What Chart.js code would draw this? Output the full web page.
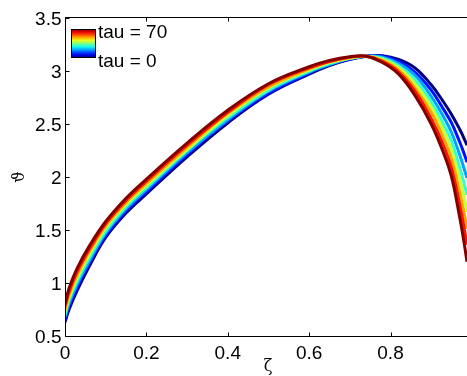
<!DOCTYPE html>
<html>
<head>
<meta charset="utf-8">
<script src="https://cdn.jsdelivr.net/npm/chart.js@4.4.0/dist/chart.umd.min.js"></script>
<style>
  html, body { margin: 0; padding: 0; background: #fff; }
  #wrap { width: 467px; height: 376px; }
</style>
</head>
<body>
<div id="wrap"><canvas id="chart" width="467" height="376"></canvas></div>
<script>
// zeta grid shared by all curves
const zeta = [0, 0.01, 0.03, 0.06, 0.1, 0.15, 0.2, 0.3, 0.4, 0.5, 0.6, 0.65, 0.7, 0.74, 0.78, 0.82, 0.86, 0.9, 0.93, 0.95, 0.97, 0.98, 0.988]

const tauValues = [0, 10, 20, 30, 40, 50, 60, 70]

// theta(zeta) for each tau
const thetaTau0  = [0.63, 0.75, 0.93, 1.16, 1.43, 1.66, 1.84, 2.19, 2.51, 2.78, 2.97, 3.05, 3.11, 3.14, 3.145, 3.11, 3.03, 2.87, 2.71, 2.59, 2.45, 2.37, 2.30]
const thetaTau10 = [0.65, 0.78, 0.96, 1.19, 1.45, 1.68, 1.86, 2.21, 2.53, 2.79, 2.98, 3.06, 3.11, 3.14, 3.14, 3.09, 2.99, 2.82, 2.64, 2.51, 2.33, 2.23, 2.14]
const thetaTau20 = [0.68, 0.81, 0.99, 1.21, 1.47, 1.70, 1.88, 2.23, 2.54, 2.81, 2.99, 3.06, 3.12, 3.14, 3.13, 3.07, 2.96, 2.76, 2.57, 2.42, 2.21, 2.09, 1.99]
const thetaTau30 = [0.70, 0.84, 1.02, 1.24, 1.49, 1.72, 1.90, 2.25, 2.56, 2.82, 3.00, 3.07, 3.12, 3.14, 3.12, 3.05, 2.92, 2.71, 2.50, 2.34, 2.09, 1.95, 1.83]
const thetaTau40 = [0.73, 0.86, 1.05, 1.27, 1.52, 1.74, 1.92, 2.26, 2.58, 2.84, 3.01, 3.08, 3.12, 3.14, 3.11, 3.03, 2.88, 2.66, 2.44, 2.25, 1.98, 1.82, 1.67]
const thetaTau50 = [0.75, 0.89, 1.08, 1.30, 1.54, 1.76, 1.94, 2.28, 2.60, 2.85, 3.02, 3.09, 3.13, 3.14, 3.10, 3.01, 2.84, 2.61, 2.37, 2.17, 1.86, 1.68, 1.51]
const thetaTau60 = [0.78, 0.92, 1.11, 1.32, 1.56, 1.78, 1.96, 2.30, 2.61, 2.87, 3.03, 3.09, 3.13, 3.14, 3.09, 2.99, 2.81, 2.55, 2.30, 2.08, 1.74, 1.54, 1.36]
const thetaTau70 = [0.80, 0.95, 1.14, 1.35, 1.58, 1.80, 1.98, 2.32, 2.63, 2.88, 3.04, 3.10, 3.135, 3.14, 3.08, 2.97, 2.77, 2.50, 2.23, 2.00, 1.62, 1.40, 1.20]

const thetaSeries = [thetaTau0, thetaTau10, thetaTau20, thetaTau30, thetaTau40, thetaTau50, thetaTau60, thetaTau70]

const xTicks = [0, 0.2, 0.4, 0.6, 0.8]
const xTickLabels = ['0', '0.2', '0.4', '0.6', '0.8']
const yTicks = [0.5, 1, 1.5, 2, 2.5, 3, 3.5]
const yTickLabels = ['0.5', '1', '1.5', '2', '2.5', '3', '3.5']

const legendTop = 'tau = 70'
const legendBottom = 'tau = 0'

const FONT = '"Liberation Sans", Arial, sans-serif'

// MATLAB-like jet colormap, t in [0, 1]
function jet(t) {
  const clamp = v => Math.max(0, Math.min(1, v))
  const r = clamp(1.5 - Math.abs(4 * t - 3))
  const g = clamp(1.5 - Math.abs(4 * t - 2))
  const b = clamp(1.5 - Math.abs(4 * t - 1))
  return `rgb(${Math.round(r * 255)}, ${Math.round(g * 255)}, ${Math.round(b * 255)})`
}

const datasets = thetaSeries.map((series, k) => ({
  label: 'tau = ' + tauValues[k],
  data: zeta.map((z, i) => ({ x: z, y: series[i] })),
  borderColor: jet(k / (thetaSeries.length - 1)),
  borderWidth: 3,
  pointRadius: 0,
  fill: false,
  tension: 0.4,
  order: thetaSeries.length - 1 - k
}))

// Axes box, inward ticks, labels and the colour legend
const axesPlugin = {
  id: 'matlabAxes',
  afterDatasetsDraw(chart) {
    const { ctx, chartArea, scales } = chart
    const left = Math.round(chartArea.left) + 0.5
    const top = Math.round(chartArea.top) - 0.5
    const bottom = Math.round(chartArea.bottom) + 0.5
    const right = chartArea.right
    const tickLen = 4

    ctx.save()
    ctx.strokeStyle = '#000'
    ctx.lineWidth = 1
    ctx.beginPath()
    ctx.moveTo(right, top); ctx.lineTo(left, top)
    ctx.lineTo(left, bottom); ctx.lineTo(right, bottom)
    xTicks.forEach(v => {
      const px = Math.round(scales.x.getPixelForValue(v)) + 0.5
      ctx.moveTo(px, bottom); ctx.lineTo(px, bottom - tickLen)
      ctx.moveTo(px, top); ctx.lineTo(px, top + tickLen)
    })
    yTicks.forEach(v => {
      const py = Math.round(scales.y.getPixelForValue(v)) + 0.5
      ctx.moveTo(left, py); ctx.lineTo(left + tickLen, py)
    })
    ctx.stroke()

    ctx.fillStyle = '#000'
    ctx.font = '19px ' + FONT
    ctx.textBaseline = 'alphabetic'
    ctx.textAlign = 'center'
    xTicks.forEach((v, i) => {
      ctx.fillText(xTickLabels[i], scales.x.getPixelForValue(v), bottom + 22)
    })
    ctx.textAlign = 'right'
    yTicks.forEach((v, i) => {
      ctx.fillText(yTickLabels[i], left - 4, scales.y.getPixelForValue(v) + 6.5)
    })

    // axis titles
    ctx.font = '16px "DejaVu Serif", serif'
    ctx.textAlign = 'center'
    ctx.fillText('\u03B6', (chartArea.left + chartArea.right) / 2 + 2, 371)
    ctx.save()
    ctx.translate(24, (chartArea.top + chartArea.bottom) / 2)
    ctx.rotate(-Math.PI / 2)
    ctx.fillText('\u03D1', 0, 0)
    ctx.restore()

    // legend: jet gradient swatch with end labels
    const sx = chartArea.left + 6, sy = chartArea.top + 11, sw = 25, sh = 29
    const grad = ctx.createLinearGradient(0, sy, 0, sy + sh)
    for (let i = 0; i <= 10; i++) {
      grad.addColorStop(i / 10, jet(1 - i / 10))
    }
    ctx.fillStyle = grad
    ctx.fillRect(sx, sy, sw, sh)
    ctx.strokeStyle = '#000'
    ctx.strokeRect(sx + 0.5, sy + 0.5, sw - 1, sh - 1)

    ctx.fillStyle = '#000'
    ctx.font = '19px ' + FONT
    ctx.textAlign = 'left'
    ctx.fillText(legendTop, sx + sw + 2, sy + 9)
    ctx.fillText(legendBottom, sx + sw + 2, sy + 38)
    ctx.restore()
  }
}

const chart = new Chart(document.getElementById('chart'), {
  type: 'line',
  data: { datasets },
  options: {
    responsive: false,
    animation: false,
    devicePixelRatio: 1,
    layout: { padding: { left: 65, top: 18, right: 0, bottom: 40 } },
    plugins: {
      legend: { display: false },
      tooltip: { enabled: false }
    },
    scales: {
      x: { type: 'linear', min: 0, max: 0.988, display: false },
      y: { type: 'linear', min: 0.5, max: 3.5, display: false }
    }
  },
  plugins: [axesPlugin]
})
</script>
</body>
</html>
